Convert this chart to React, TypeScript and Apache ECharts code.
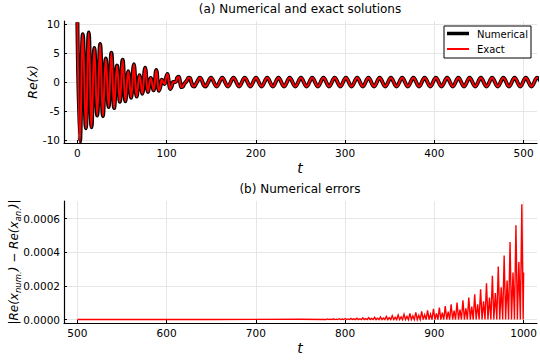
import React, { useEffect, useRef } from "react";
import * as echarts from "echarts";

// ---- tick values ----
const topXTicks = [0, 100, 200, 300, 400, 500];
const topYTicks = [-10, -5, 0, 5, 10];
const botXTicks = [500, 600, 700, 800, 900, 1000];
const botYTicks = [0, 0.0002, 0.0004, 0.0006];

// ---- (a) solution Re(x) vs t ----
const earlyPhase: [number, number][] = [
  [0, 10.4], [2.9, -10.4], [6.1, 8.3], [9.5, -8.0], [12.7, 8.6], [15.8, -7.8],
  [19.0, 5.9], [22.2, -5.8], [25.5, 6.6], [28.6, -5.9], [31.8, 4.1], [35.0, -4.3],
  [38.1, 5.1], [41.2, -4.5], [44.4, 2.9], [47.6, -3.4], [50.7, 3.9], [53.8, -3.3],
  [57.0, 1.9], [60.2, -2.7], [63.3, 3.1], [66.4, -2.5], [69.6, 1.2], [72.8, -2.0],
  [75.9, 2.5], [79.0, -1.7], [82.2, 0.7], [85.4, -1.4], [88.4, 2.1], [91.4, -1.5],
];
const transitionPhase: [number, number][] = [
  [93.0, -0.75], [94.6, 0.42], [96.15, 0], [97.7, -0.32], [99.3, 0.75], [100.9, 1.4],
  [102.45, 0], [104.0, -1.18], [105.6, -0.75], [107.2, 0.02], [108.75, 0], [110.3, 0.06],
  [111.9, 0.75], [113.5, 0.93], [115.05, 0], [116.6, -0.86], [118.2, -0.75], [119.8, -0.26],
  [121.35, 0], [122.9, 0.31], [124.5, 0.75], [126.1, 0.71], [127.65, 0], [129.2, -0.67],
  [130.8, -0.75], [132.4, -0.42], [133.95, 0], [135.5, 0.45], [137.1, 0.75], [138.7, 0.59],
  [140.25, 0], [141.8, -0.575], [143.4, -0.75], [145.0, -0.5], [146.55, 0],
];
const steadyPhase: [number, number][] = [
  [149.7, 0.75], [156.0, -0.75], [162.3, 0.75], [168.6, -0.75], [174.9, 0.75], [181.2, -0.75],
  [187.5, 0.75], [193.8, -0.75], [200.1, 0.75], [206.4, -0.75], [212.7, 0.75], [219.0, -0.75],
  [225.3, 0.75], [231.6, -0.75], [237.9, 0.75], [244.2, -0.75], [250.5, 0.75], [256.8, -0.75],
  [263.1, 0.75], [269.4, -0.75], [275.7, 0.75], [282.0, -0.75], [288.3, 0.75], [294.6, -0.75],
  [300.9, 0.75], [307.2, -0.75], [313.5, 0.75], [319.8, -0.75], [326.1, 0.75], [332.4, -0.75],
  [338.7, 0.75], [345.0, -0.75], [351.3, 0.75], [357.6, -0.75], [363.9, 0.75], [370.2, -0.75],
  [376.5, 0.75], [382.8, -0.75], [389.1, 0.75], [395.4, -0.75], [401.7, 0.75], [408.0, -0.75],
  [414.3, 0.75], [420.6, -0.75], [426.9, 0.75], [433.2, -0.75], [439.5, 0.75], [445.8, -0.75],
  [452.1, 0.75], [458.4, -0.75], [464.7, 0.75], [471.0, -0.75], [477.3, 0.75], [483.6, -0.75],
  [489.9, 0.75], [496.2, -0.75], [502.5, 0.75], [508.8, -0.75], [515.1, 0.75], [521.4, -0.75],
];

// ---- (b) numerical error |Re(x_num) - Re(x_an)| vs t ----
const errorQuiet: [number, number][] = [
  [500, 0], [550, 2e-7], [600, 4e-7], [650, 7e-7], [700, 1.2e-6], [750, 2.0e-6],
];
const errorGrowth: [number, number][] = [
  [778.55, 0], [780.2, 3.6e-6], [781.85, 0], [783.5, 2.2e-6], [785.15, 0], [786.8, 4.3e-6],
  [788.45, 0], [790.1, 2.6e-6], [791.75, 0], [793.4, 5.1e-6], [795.05, 0], [796.7, 3.05e-6],
  [798.35, 0], [800.0, 6.0e-6], [801.65, 0], [803.3, 3.6e-6], [804.95, 0], [806.6, 7.0e-6],
  [808.25, 0], [809.9, 4.2e-6], [811.55, 0], [813.2, 8.3e-6], [814.85, 0], [816.5, 5.0e-6],
  [818.15, 0], [819.8, 9.8e-6], [821.45, 0], [823.1, 5.9e-6], [824.75, 0], [826.4, 1.15e-5],
  [828.05, 0], [829.7, 6.9e-6], [831.35, 0], [833.0, 1.35e-5], [834.65, 0], [836.3, 8.1e-6],
  [837.95, 0], [839.6, 1.6e-5], [841.25, 0], [842.9, 9.6e-6], [844.55, 0], [846.2, 1.9e-5],
  [847.85, 0], [849.5, 1.14e-5], [851.15, 0], [852.8, 2.25e-5], [854.45, 0], [856.1, 1.35e-5],
  [857.75, 0], [859.4, 2.65e-5], [861.05, 0], [862.7, 1.58e-5], [864.35, 0], [866.0, 3.1e-5],
  [867.65, 0], [869.3, 1.84e-5], [870.95, 0], [872.6, 3.6e-5], [874.25, 0], [875.9, 2.15e-5],
  [877.55, 0], [879.2, 4.2e-5], [880.85, 0], [882.5, 2.48e-5], [884.15, 0], [885.8, 4.8e-5],
  [887.45, 0], [889.1, 2.83e-5], [890.75, 0], [892.4, 5.5e-5], [894.05, 0], [895.7, 3.25e-5],
  [897.35, 0], [899.0, 6.3e-5], [900.65, 0], [902.3, 3.7e-5], [903.95, 0], [905.6, 7.1e-5],
  [907.25, 0], [908.9, 4.15e-5], [910.55, 0], [912.2, 8.0e-5], [913.85, 0], [915.5, 4.7e-5],
  [917.15, 0], [918.8, 9.0e-5], [920.45, 0], [922.1, 5.25e-5], [923.75, 0], [925.4, 1.01e-4],
  [927.05, 0], [928.7, 5.9e-5], [930.35, 0], [932.0, 1.14e-4], [933.65, 0], [935.3, 6.7e-5],
  [936.95, 0], [938.6, 1.3e-4], [940.25, 0], [941.9, 7.7e-5], [943.55, 0], [945.2, 1.5e-4],
  [946.85, 0], [948.5, 9.1e-5], [950.15, 0], [951.8, 1.8e-4], [953.45, 0], [955.1, 1.09e-4],
  [956.75, 0], [958.4, 2.15e-4], [960.05, 0], [961.7, 1.31e-4], [963.35, 0], [965.0, 2.6e-4],
  [966.65, 0], [968.3, 1.58e-4], [969.95, 0], [971.6, 3.15e-4], [973.25, 0], [974.9, 1.91e-4],
  [976.55, 0], [978.2, 3.8e-4], [979.85, 0], [981.5, 2.31e-4], [983.15, 0], [984.8, 4.6e-4],
  [986.45, 0], [988.1, 2.8e-4], [989.75, 0], [991.4, 5.6e-4], [993.05, 0], [994.7, 3.42e-4],
  [996.35, 0], [998.0, 6.85e-4], [999.5, 0], [1000, 2.8e-4],
];

const FONT = "DejaVu Sans";

export default function App() {
  const ref = useRef<HTMLDivElement>(null);

  useEffect(() => {
    if (!ref.current) return;
    const chart = echarts.init(ref.current, undefined, { renderer: "svg" });
    const solution = [...earlyPhase, ...transitionPhase, ...steadyPhase];
    const errors = [...errorQuiet, ...errorGrowth];

    const axisBase = (ticks: number[], fmt: (v: number) => string) => ({
      type: "value" as const,
      axisLine: { show: true, onZero: false, lineStyle: { color: "#000", width: 1.2 } },
      axisTick: { show: true, inside: true, length: 3, customValues: ticks, lineStyle: { color: "#000", width: 1 } },
      axisLabel: {
        show: true,
        customValues: ticks,
        color: "#000",
        fontSize: 10.5,
        fontFamily: FONT,
        margin: 4,
        formatter: (v: number) => fmt(v),
      },
      splitLine: { show: true, lineStyle: { color: "#e6e6e6", width: 1 } },
    });
    const plain = (v: number) => String(Math.round(v));

    const textEl = (x: number, y: number, text: string, size: number, extra: any = {}) => ({
      type: "text",
      x,
      y,
      z: 100,
      style: {
        text,
        fontSize: size,
        fontFamily: FONT,
        fill: "#000",
        align: "center",
        verticalAlign: "middle",
        textAlign: "center",
        textVerticalAlign: "middle",
        ...extra,
      },
    });

    chart.setOption({
      animation: false,
      backgroundColor: "#ffffff",
      grid: [
        { left: 64, top: 21, width: 473, height: 122, containLabel: false },
        { left: 64, top: 201, width: 473, height: 122, containLabel: false },
      ],
      xAxis: [
        { ...axisBase(topXTicks, plain), gridIndex: 0, min: -15, max: 515 },
        { ...axisBase(botXTicks, plain), gridIndex: 1, min: 485, max: 1015 },
      ],
      yAxis: [
        { ...axisBase(topYTicks, plain), gridIndex: 0, min: -10.55, max: 10.6 },
        { ...axisBase(botYTicks, (v) => v.toFixed(4)), gridIndex: 1, min: -0.0000205, max: 0.000704 },
      ],
      series: [
        {
          name: "Numerical",
          type: "line",
          xAxisIndex: 0,
          yAxisIndex: 0,
          data: solution,
          symbol: "none",
          showSymbol: false,
          smooth: 0.4,
          clip: true,
          z: 2,
          lineStyle: { color: "#000000", width: 4 },
        },
        {
          name: "Exact",
          type: "line",
          xAxisIndex: 0,
          yAxisIndex: 0,
          data: solution,
          symbol: "none",
          showSymbol: false,
          smooth: 0.4,
          clip: true,
          z: 3,
          lineStyle: { color: "#ff0000", width: 2 },
        },
        {
          name: "Error",
          type: "line",
          xAxisIndex: 1,
          yAxisIndex: 1,
          data: errors,
          symbol: "none",
          showSymbol: false,
          clip: true,
          z: 3,
          lineStyle: { color: "#ff0000", width: 1.4, join: "miter" },
        },
      ],
      graphic: [
        textEl(300, 9, "(a) Numerical and exact solutions", 12),
        textEl(300, 189, "(b) Numerical errors", 12),
        textEl(300, 168, "t", 14, { fontStyle: "italic" }),
        textEl(300, 348, "t", 14, { fontStyle: "italic" }),
        {
          type: "text",
          x: 32,
          y: 82,
          rotation: Math.PI / 2,
          z: 100,
          style: {
            text: "Re(x)",
            fontSize: 12.5,
            fontStyle: "italic",
            fontFamily: FONT,
            fill: "#000",
            align: "center",
            verticalAlign: "middle",
            textAlign: "center",
            textVerticalAlign: "middle",
          },
        },
        {
          type: "text",
          x: 14,
          y: 262,
          rotation: Math.PI / 2,
          z: 100,
          style: {
            text: "{n||Re(x}{s|num.}{n|) − Re(x}{s|an.}{n|)|}",
            fontFamily: FONT,
            fill: "#000",
            align: "center",
            verticalAlign: "middle",
            textAlign: "center",
            textVerticalAlign: "middle",
            rich: {
              n: { fontSize: 12, fontStyle: "italic", fontFamily: FONT, fill: "#000", lineHeight: 16 },
              s: { fontSize: 8.5, fontStyle: "italic", fontFamily: FONT, fill: "#000", lineHeight: 6, verticalAlign: "bottom" },
            },
          },
        },
        // legend
        {
          type: "rect",
          z: 100,
          shape: { x: 444, y: 26, width: 87, height: 32 },
          style: { fill: "#ffffff", stroke: "#000000", lineWidth: 1 },
        },
        {
          type: "line",
          z: 101,
          shape: { x1: 447, y1: 33.5, x2: 469, y2: 33.5 },
          style: { stroke: "#000000", lineWidth: 3.5 },
        },
        {
          type: "line",
          z: 101,
          shape: { x1: 447, y1: 49, x2: 469, y2: 49 },
          style: { stroke: "#ff0000", lineWidth: 2 },
        },
        textEl(477, 34, "Numerical", 10, { align: "left", textAlign: "left" }),
        textEl(477, 49, "Exact", 10, { align: "left", textAlign: "left" }),
      ],
    });

    return () => chart.dispose();
  }, []);

  return (
    <div
      ref={ref}
      style={{ position: "fixed", left: 0, top: 0, width: 540, height: 360, background: "#fff" }}
    />
  );
}
